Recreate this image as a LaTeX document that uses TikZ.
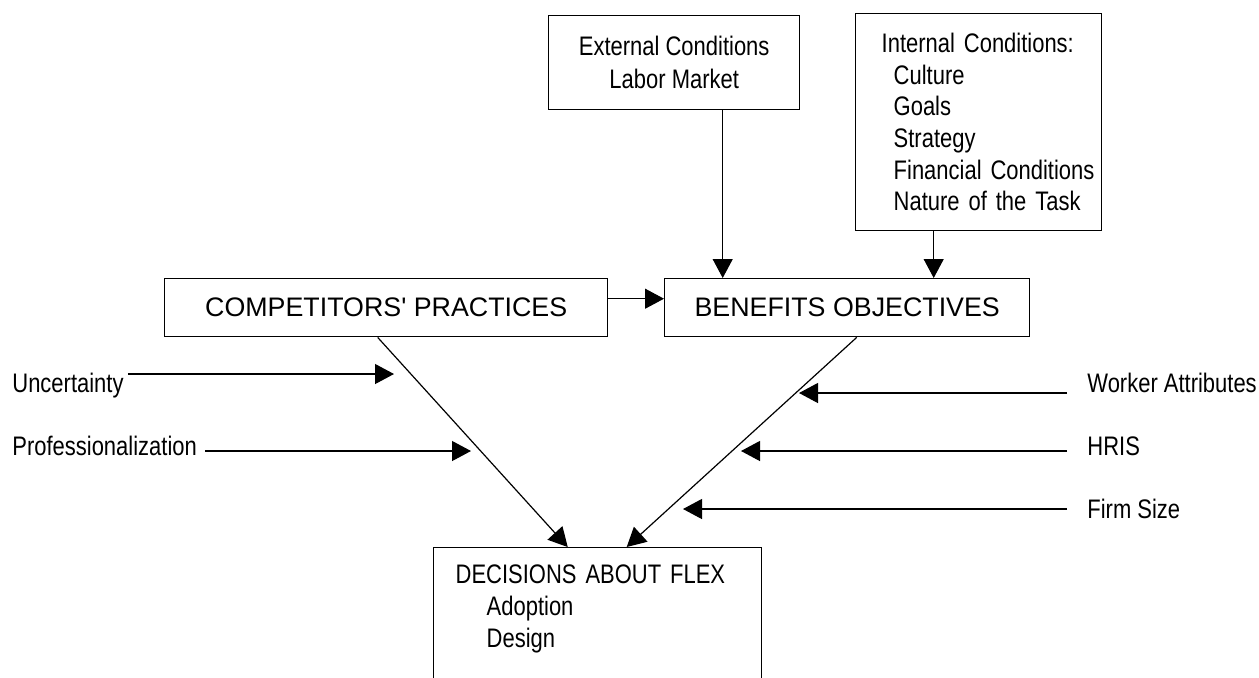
\documentclass[tikz,border=0pt]{standalone}
\usepackage{fontspec}
\setmainfont{Liberation Sans}[Ligatures=TeXOff]
\newfontfamily\narrowfont{Liberation Sans}[FakeStretch=0.82, Ligatures=TeXOff]
\usetikzlibrary{arrows.meta}

\tikzset{
	box/.style={draw, line width=0.7pt, rectangle, anchor=north west},
	flow/.style={line width=0.6pt, -{Triangle[length=9.5pt,width=10pt]}},
	bigtxt/.style={font=\fontsize{13.4}{16}\selectfont},
	smalltxt/.style={font=\narrowfont\fontsize{13.4}{16}\selectfont},
	lbl/.style={smalltxt, inner sep=0pt, anchor=base west}
}

\begin{document}
\begin{tikzpicture}[x=0.5pt,y=-0.5pt]
	\useasboundingbox (0,0) rectangle (1259,677);
	\clip (0,0) rectangle (1259,677);
	% boxes
	\node[box, smalltxt, align=center, font=\narrowfont\fontsize{13.4}{16.5}\selectfont,
		minimum width=125.5pt, minimum height=47pt] (ext) at (548,15)
		{External Conditions\\Labor Market};
	\node[box, font=\narrowfont\fontsize{13.4}{15.8}\selectfont, align=left,
		text width=97pt, inner xsep=13pt, minimum height=108.5pt] (int) at (855,13)
		{\mbox{Internal Conditions:}\\\mbox{\hspace*{6pt}Culture}\\\mbox{\hspace*{6pt}Goals}\\
		\mbox{\hspace*{6pt}Strategy}\\\mbox{\hspace*{6pt}Financial Conditions}\\
		\mbox{\hspace*{6pt}Nature of the Task}};
	\node[box, bigtxt, minimum width=221.5pt, minimum height=29pt] (comp) at (164,278)
		{COMPETITORS' PRACTICES};
	\node[box, bigtxt, minimum width=182.5pt, minimum height=29pt] (ben) at (664,278)
		{BENEFITS OBJECTIVES};
	\node[box, smalltxt, align=left, text width=142pt, inner xsep=11pt, inner ysep=8.5pt] (dec) at (433,547)
		{\mbox{DECISIONS ABOUT FLEX}\\\mbox{\hspace*{15.5pt}Adoption}\\\mbox{\hspace*{15.5pt}Design}\\\mbox{}};
	% side factors
	\node[lbl] (unc) at (12,392) {Uncertainty};
	\node[lbl] (pro) at (12,455) {Professionalization};
	\node[lbl] (wrk) at (1087,392) {Worker Attributes};
	\node[lbl] (hris) at (1087,455) {HRIS};
	\node[lbl] (fsz) at (1087,518) {Firm Size};
	\coordinate (uncT) at (394,374);
	\coordinate (proT) at (471,451);
	\coordinate (wrkT) at (799,393);
	\coordinate (hrisT) at (741,451);
	\coordinate (fszT) at (683,509);
	% arrows
	\draw[flow] ([xshift=24.25pt]ext.south) coordinate (e) -- (e |- ben.north);
	\draw[flow] ([xshift=-22.5pt]int.south) coordinate (i) -- (i |- ben.north);
	\draw[flow] ([yshift=4.5pt]comp.east) coordinate (c) -- (c -| ben.west);
	\draw[flow] ([xshift=-4.25pt]comp.south) -- ([xshift=-15pt]dec.north);
	\draw[flow] ([xshift=4.75pt]ben.south) -- ([xshift=14.5pt]dec.north);
	\draw[flow] (unc.east |- uncT) ++(4,0) -- (uncT);
	\draw[flow] (pro.east |- proT) ++(8,0) -- (proT);
	\draw[flow] (wrk.west |- wrkT) ++(-20,0) -- (wrkT);
	\draw[flow] (hris.west |- hrisT) ++(-20,0) -- (hrisT);
	\draw[flow] (fsz.west |- fszT) ++(-20,0) -- (fszT);
\end{tikzpicture}
\end{document}
